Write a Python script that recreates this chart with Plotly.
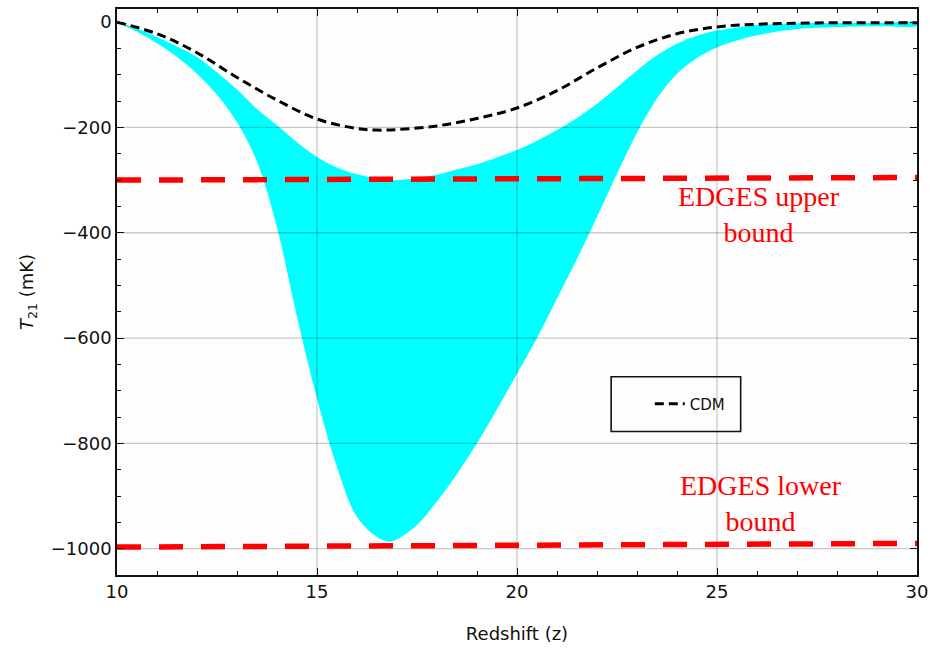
import plotly.graph_objects as go

# ---------------- data ----------------
z_cdm = [10, 11, 12, 13, 14, 15, 16, 16.5, 17, 18, 19, 20, 21, 22, 23, 24, 25, 26, 27, 28, 29, 30]
t_cdm = [0, -22, -58, -105, -148, -184, -202, -205, -204, -197, -183, -163, -130, -87, -48, -22, -9, -4, -2, -1, -1, -1]

z_band = [10, 10.5, 11, 11.5, 12, 12.5, 13, 13.5, 14, 14.5, 15, 15.5, 16, 16.5, 16.8, 17, 17.5, 18,
          18.5, 19, 19.5, 20, 20.5, 21, 21.5, 22, 22.5, 23, 23.5, 24, 24.5, 25, 25.5, 26, 27, 28, 29, 30]
t_band_upper = [0, -12, -28, -46, -66, -95, -128, -165, -196, -228, -256, -276, -289, -297, -299, -300, -296, -290,
                -280, -270, -257, -243, -225, -205, -182, -155, -124, -92, -63, -41, -26, -16, -10, -6, -2, -1, -1, -1]
t_band_lower = [0, -18, -40, -66, -98, -138, -190, -265, -390, -560, -715, -845, -940, -978, -987, -982, -955, -910,
                -858, -800, -735, -668, -600, -525, -450, -370, -288, -210, -145, -98, -68, -48, -35, -25, -13, -9, -8, -7]

z_edges = [10, 30]
t_edges_upper = [-300, -295]
t_edges_lower = [-997, -990]

x_major = [10, 15, 20, 25, 30]
y_major = [0, -200, -400, -600, -800, -1000]
y_labels = ["0", "\u2212200", "\u2212400", "\u2212600", "\u2212800", "\u22121000"]
x_range = [10, 30]
y_range = [-1050, 25]

fig = go.Figure()

# cyan band
fig.add_trace(go.Scatter(
    x=z_band + z_band[::-1],
    y=t_band_upper + t_band_lower[::-1],
    fill="toself", fillcolor="#00FFFF", mode="lines",
    line=dict(width=0, color="#00FFFF", shape="spline", smoothing=1.0),
    showlegend=False, hoverinfo="skip"))

# grid lines drawn above the band (as in the reference)
gx, gy = [], []
for v in x_major[1:-1]:
    gx += [v, v, None]
    gy += [y_range[0], y_range[1], None]
for v in y_major[1:]:
    gx += [x_range[0], x_range[1], None]
    gy += [v, v, None]
fig.add_trace(go.Scatter(x=gx, y=gy, mode="lines", line=dict(color="rgba(0,0,0,0.2)", width=1.3),
                         showlegend=False, hoverinfo="skip"))

# EDGES bounds
for tv in (t_edges_upper, t_edges_lower):
    fig.add_trace(go.Scatter(x=z_edges, y=tv, mode="lines",
                             line=dict(color="#FF0000", width=5.5, dash="24px,18px"),
                             showlegend=False, hoverinfo="skip"))

# CDM
fig.add_trace(go.Scatter(x=z_cdm, y=t_cdm, mode="lines", name="CDM",
                         line=dict(color="black", width=3, dash="9px,5px", shape="spline")))

axis_common = dict(
    showline=True, linecolor="#111", linewidth=1.6, mirror="ticks",
    ticks="inside", ticklen=7, tickwidth=1.3, tickcolor="#111",
    showgrid=False, zeroline=False,
    tickfont=dict(family="DejaVu Sans", size=18, color="#111"),
)

fig.update_layout(
    width=935, height=648,
    margin=dict(l=117, r=15, t=7, b=73),
    paper_bgcolor="white", plot_bgcolor="#fdfdfd",
    xaxis=dict(range=x_range, tickvals=x_major, ticktext=[str(v) for v in x_major],
               minor=dict(dtick=1, ticks="inside", ticklen=4, tickwidth=1.2, tickcolor="#111", showgrid=False),
               title=dict(text="Redshift (z)", font=dict(family="DejaVu Sans", size=18, color="#111"), standoff=26),
               **axis_common),
    yaxis=dict(range=y_range, tickvals=y_major, ticktext=y_labels,
               minor=dict(dtick=50, ticks="inside", ticklen=4, tickwidth=1.2, tickcolor="#111", showgrid=False),
               title=dict(text="<i>T</i><sub>21</sub> (mK)", font=dict(family="DejaVu Sans", size=18, color="#111"),
                          standoff=12),
               **axis_common),
    legend=dict(x=0.666, y=0.302, xanchor="left", yanchor="middle",
                bgcolor="rgba(0,0,0,0)", borderwidth=0,
                font=dict(family="DejaVu Sans", size=15, color="#111")),
    showlegend=True,
    shapes=[dict(type="rect", xref="paper", yref="paper",
                 x0=(613 - 117) / 803, x1=(743 - 117) / 803,
                 y0=(575 - 431) / 568, y1=(575 - 376) / 568,
                 line=dict(color="#111", width=1.6), fillcolor="rgba(0,0,0,0)")],
    annotations=[
        dict(x=26.05, y=-365, xref="x", yref="y", text="EDGES upper<br>bound", showarrow=False,
             font=dict(family="Liberation Serif", size=28, color="#FF0000"), align="center"),
        dict(x=26.1, y=-915, xref="x", yref="y", text="EDGES lower<br>bound", showarrow=False,
             font=dict(family="Liberation Serif", size=28, color="#FF0000"), align="center"),
    ],
)

fig.write_html("out.html")
